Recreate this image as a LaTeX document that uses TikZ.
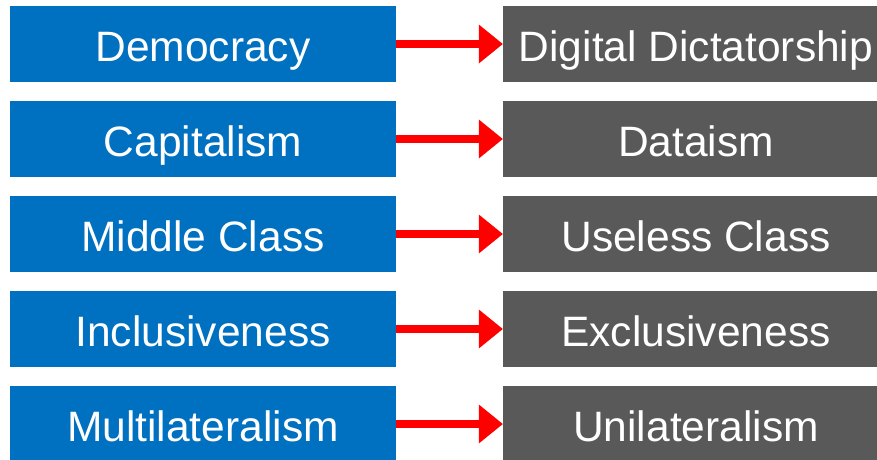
\documentclass[tikz,border=0pt]{standalone}
\usepackage{fontspec}
\setmainfont{Liberation Sans}
\usetikzlibrary{arrows.meta}
\definecolor{boxblue}{HTML}{0070C0}
\definecolor{boxgrey}{HTML}{595959}
\definecolor{arrowred}{HTML}{FF0000}
\begin{document}
\begin{tikzpicture}[x=1pt,y=-1pt,
  termbox/.style={rectangle, inner sep=0pt, minimum width=386pt, minimum height=76pt,
    text height=43pt, text depth=9pt,
    text=white, font=\fontsize{42.5}{50}\selectfont},
  oldterm/.style={termbox, fill=boxblue},
  newterm/.style={termbox, fill=boxgrey},
  becomes/.style={arrowred, line width=8pt,
    -{Triangle[length=24pt,width=39pt,line width=0pt]}}]
\useasboundingbox (0,0) rectangle (877,459);
\clip (0,0) rectangle (877,459);
\node[oldterm] (o1) at (203,44)  {Democracy};
\node[oldterm] (o2) at (203,139) {Capitalism};
\node[oldterm] (o3) at (203,234) {Middle Class};
\node[oldterm] (o4) at (203,329) {Inclusiveness};
\node[oldterm] (o5) at (203,424) {Multilateralism};
\node[newterm] (n1) at (696,44)  {Digital Dictatorship};
\node[newterm] (n2) at (696,139) {Dataism};
\node[newterm] (n3) at (696,234) {Useless Class};
\node[newterm] (n4) at (696,329) {Exclusiveness};
\node[newterm] (n5) at (696,424) {Unilateralism};
\foreach \i in {1,...,5}
  \draw[becomes] (o\i.east) -- (n\i.west);
\end{tikzpicture}
\end{document}
